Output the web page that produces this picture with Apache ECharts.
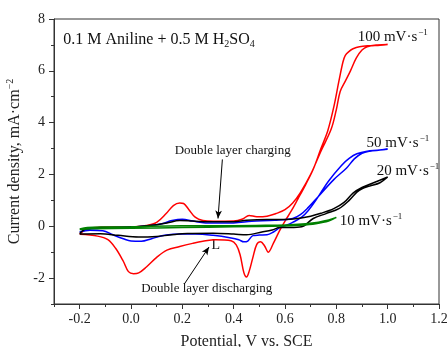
<!DOCTYPE html>
<html>
<head>
<meta charset="utf-8">
<script src="https://cdn.jsdelivr.net/npm/echarts@6/dist/echarts.min.js"></script>
<style>
  html, body { margin: 0; padding: 0; background: #fff; }
  #chart { width: 448px; height: 347px; }
</style>
</head>
<body>
<div id="chart"></div>
<script>
// potential (V vs SCE) and current density (mA/cm2), forward scan then reverse scan
var v100 = [-0.2,-0.175,-0.15,-0.1,0.0,0.06,0.1,0.137,0.165,0.19,0.205,0.225,0.25,0.28,0.32,0.4,0.435,0.46,0.49,0.53,0.565,0.6,0.63,0.66,0.7,0.74,0.78,0.8,0.815,0.835,0.855,0.878,0.9,0.92,0.96,1.0,
  0.97,0.93,0.89,0.865,0.85,0.835,0.826,0.81,0.79,0.767,0.74,0.71,0.68,0.65,0.625,0.6,0.58,0.555,0.535,0.52,0.505,0.49,0.475,0.46,0.45,0.44,0.425,0.41,0.39,0.33,0.28,0.24,0.19,0.14,0.1,0.06,0.03,0.01,-0.01,-0.03,-0.06,-0.09,-0.13,-0.2];
var i100 = [-0.31,-0.12,-0.06,-0.04,-0.03,0.03,0.15,0.49,0.8,0.9,0.88,0.65,0.35,0.22,0.19,0.2,0.28,0.42,0.37,0.39,0.49,0.64,0.9,1.3,2.0,2.9,3.75,4.5,5.2,5.6,6.0,6.5,6.8,6.93,7.0,7.02,
  6.99,6.97,6.93,6.85,6.75,6.6,6.35,5.6,4.6,3.7,3.0,2.2,1.6,1.05,0.6,0.2,-0.15,-0.65,-1.0,-0.75,-0.6,-0.7,-1.2,-1.75,-1.96,-1.8,-1.1,-0.72,-0.56,-0.52,-0.58,-0.66,-0.78,-0.92,-1.2,-1.57,-1.8,-1.83,-1.75,-1.35,-0.85,-0.52,-0.38,-0.31];

var v50 = [-0.2,-0.17,-0.12,0.0,0.08,0.12,0.16,0.2,0.24,0.29,0.4,0.47,0.56,0.63,0.66,0.69,0.73,0.79,0.84,0.87,0.9,0.93,0.97,1.0,
  0.96,0.92,0.88,0.85,0.82,0.77,0.72,0.69,0.665,0.63,0.6,0.58,0.555,0.53,0.5,0.475,0.455,0.44,0.42,0.39,0.32,0.25,0.2,0.13,0.08,0.04,0.0,-0.03,-0.07,-0.11,-0.16,-0.2];
var i50 = [-0.22,-0.12,-0.08,-0.03,0.03,0.1,0.22,0.27,0.2,0.13,0.13,0.19,0.23,0.3,0.45,0.72,1.15,1.8,2.25,2.6,2.82,2.9,2.94,2.97,
  2.93,2.9,2.8,2.62,2.35,1.75,1.0,0.6,0.35,0.15,0.02,-0.05,-0.22,-0.33,-0.34,-0.36,-0.57,-0.6,-0.52,-0.45,-0.35,-0.3,-0.3,-0.35,-0.48,-0.58,-0.57,-0.48,-0.33,-0.17,-0.15,-0.22];

var v20 = [-0.2,-0.175,-0.12,0.0,0.1,0.14,0.19,0.24,0.32,0.4,0.45,0.53,0.6,0.65,0.7,0.74,0.79,0.83,0.865,0.9,0.95,1.0,
  0.97,0.93,0.9,0.88,0.85,0.81,0.76,0.71,0.665,0.62,0.58,0.55,0.51,0.45,0.4,0.32,0.22,0.15,0.1,0.03,-0.05,-0.12,-0.2];
var i20 = [-0.28,-0.1,-0.05,-0.03,0.06,0.13,0.22,0.2,0.17,0.17,0.23,0.26,0.26,0.3,0.39,0.5,0.68,0.92,1.28,1.5,1.7,1.9,
  1.68,1.55,1.45,1.32,1.0,0.68,0.49,0.3,-0.02,-0.05,-0.05,-0.14,-0.22,-0.33,-0.3,-0.27,-0.28,-0.34,-0.39,-0.41,-0.35,-0.29,-0.3];

var v10 = [-0.2,-0.17,-0.1,0.0,0.2,0.4,0.55,0.62,0.68,0.73,0.77,0.8,
  0.77,0.72,0.66,0.6,0.4,0.2,0.0,-0.15,-0.2];
var i10 = [-0.1,-0.05,-0.03,-0.02,0.02,0.02,0.04,0.06,0.1,0.16,0.24,0.34,
  0.2,0.1,0.04,0.01,-0.02,-0.05,-0.08,-0.1,-0.12];

var xLabels = [-0.2, 0, 0.2, 0.4, 0.6, 0.8, 1.0, 1.2];
var yLabels = [-2, 0, 2, 4, 6, 8];

var font = "'Liberation Serif', 'Times New Roman', serif";

function pairs(v, i) {
  return v.map(function (x, k) { return [x, i[k]]; });
}

function cv(name, color, v, i) {
  return {
    name: name,
    type: 'line',
    data: pairs(v, i),
    smooth: 0.35,
    showSymbol: false,
    symbol: 'none',
    lineStyle: { color: color, width: 1.5 },
    itemStyle: { color: color },
    silent: true,
    animation: false
  };
}

var chart = echarts.init(document.getElementById('chart'));

var arrowSeries = {
  type: 'line',
  data: [],
  silent: true,
  animation: false,
  markLine: {
    silent: true,
    symbol: ['none', 'arrow'],
    symbolSize: [5, 8],
    label: { show: false },
    lineStyle: { color: '#000', width: 1, type: 'solid' },
    data: [
      [{ coord: [0.356, 2.58] }, { coord: [0.339, 0.3] }],
      [{ coord: [0.209, -2.21] }, { coord: [0.304, -0.8] }]
    ]
  }
};

chart.setOption({
  animation: false,
  grid: {
    left: 54, right: 9, top: 19, bottom: 43,
    outerBoundsMode: 'none',
    show: true, borderColor: '#333', borderWidth: 1, backgroundColor: 'transparent'
  },
  xAxis: [{
    type: 'value', min: -0.3, max: 1.2,
    name: 'Potential, V vs. SCE', nameLocation: 'middle', nameGap: 30,
    nameTextStyle: { fontFamily: font, fontSize: 16, color: '#222' },
    axisLine: { show: true, onZero: false, lineStyle: { color: '#333' } },
    axisTick: { show: true, length: 5, customValues: xLabels, lineStyle: { color: '#333' } },
    axisLabel: {
      customValues: xLabels, margin: 8, fontFamily: font, fontSize: 14, color: '#222',
      formatter: function (v) { return v.toFixed(1); }
    },
    splitLine: { show: false }
  }, {
    type: 'value', min: -0.3, max: 1.2, interval: 0.1, position: 'bottom',
    axisLine: { show: false, onZero: false },
    axisTick: { show: true, length: 3, lineStyle: { color: '#333' } },
    axisLabel: { show: false },
    splitLine: { show: false }
  }],
  yAxis: [{
    type: 'value', min: -3, max: 8,
    name: '{m|Current density, mA·cm}{s|−2}', nameLocation: 'middle', nameGap: 26,
    nameTextStyle: {
      color: '#222',
      rich: {
        m: { fontFamily: font, fontSize: 16, color: '#222' },
        s: { fontFamily: font, fontSize: 10, color: '#222', verticalAlign: 'top', padding: [0, 0, 8, 0] }
      }
    },
    axisLine: { show: true, onZero: false, lineStyle: { color: '#333' } },
    axisTick: { show: true, length: 5, customValues: yLabels, lineStyle: { color: '#333' } },
    axisLabel: { customValues: yLabels, margin: 9, fontFamily: font, fontSize: 14, color: '#222' },
    splitLine: { show: false }
  }, {
    type: 'value', min: -3, max: 8, interval: 1, position: 'left',
    axisLine: { show: false, onZero: false },
    axisTick: { show: true, length: 3, lineStyle: { color: '#333' } },
    axisLabel: { show: false },
    splitLine: { show: false }
  }],
  series: [
    cv('100 mV/s', '#ff0000', v100, i100),
    cv('50 mV/s', '#0000ff', v50, i50),
    cv('20 mV/s', '#000000', v20, i20),
    cv('10 mV/s', '#008000', v10, i10),
    arrowSeries
  ]
});

// annotation texts placed at data coordinates
function at(v, i) { return chart.convertToPixel({ gridIndex: 0 }, [v, i]); }

function rateText(rate, v, i) {
  var p = at(v, i);
  return {
    type: 'text', x: p[0], y: p[1], silent: true,
    style: {
      text: '{m|' + rate + ' mV·s}{s|−1}',
      verticalAlign: 'middle', align: 'left',
      rich: {
        m: { fontFamily: font, fontSize: 15, fill: '#111' },
        s: { fontFamily: font, fontSize: 9, fill: '#111', padding: [0, 0, 9, 1] }
      }
    }
  };
}

var pTitle = at(-0.264, 7.18);
var pCharge = at(0.396, 2.93);
var pDis = at(0.295, -2.39);
var pL = at(0.33, -0.74);

chart.setOption({
  graphic: [
    {
      type: 'text', x: pTitle[0], y: pTitle[1], silent: true,
      style: {
        text: '{m|0.1 M Aniline + 0.5 M H}{b|2}{m|SO}{b|4}',
        verticalAlign: 'middle', align: 'left',
        rich: {
          m: { fontFamily: font, fontSize: 16, fill: '#111' },
          b: { fontFamily: font, fontSize: 10, fill: '#111', padding: [8, 0, 0, 0] }
        }
      }
    },
    rateText('100', 0.883, 7.3),
    rateText('50', 0.918, 3.2),
    rateText('20', 0.957, 2.12),
    rateText('10', 0.813, 0.19),
    {
      type: 'text', x: pCharge[0], y: pCharge[1], silent: true,
      style: { text: 'Double layer charging', font: '13px ' + font, fill: '#111', align: 'center', verticalAlign: 'middle' }
    },
    {
      type: 'text', x: pDis[0], y: pDis[1], silent: true,
      style: { text: 'Double layer discharging', font: '13px ' + font, fill: '#111', align: 'center', verticalAlign: 'middle' }
    },
    {
      type: 'text', x: pL[0], y: pL[1], silent: true,
      style: { text: 'L', font: '14px ' + font, fill: '#111', align: 'center', verticalAlign: 'middle' }
    }
  ]
});
</script>
</body>
</html>
